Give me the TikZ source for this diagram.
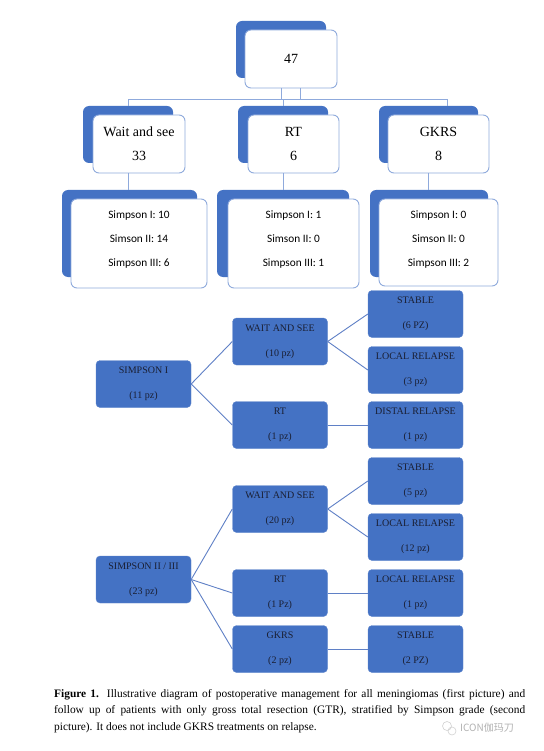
\documentclass[tikz,border=0pt]{standalone}
\usepackage{fontspec}
\setmainfont{Liberation Serif}
\newfontfamily\calibri{Carlito}
\newfontfamily\cjk{Noto Sans CJK SC}
\definecolor{obl}{HTML}{4472C4}
\definecolor{lbl}{HTML}{8FAADC}
\definecolor{conn}{HTML}{5F80C6}
\definecolor{dtext}{HTML}{1A1F33}
\begin{document}
\begin{tikzpicture}[x=1pt,y=-1pt,
  shad/.style={fill=obl, draw=none, rounded corners=6pt, inner sep=0pt},
  frontbox/.style={fill=white, draw=lbl, line width=0.9pt, rounded corners=6pt, inner sep=0pt, align=center},
  toptext/.style={font=\fontsize{14}{24}\selectfont},
  midtext/.style={font=\calibri\fontsize{11.3}{24}\selectfont, align=center, inner sep=0pt},
  pbox/.style={fill=obl, draw=obl!85!white, rounded corners=4pt, minimum width=95pt, minimum height=47pt, inner sep=0pt, align=center, text=dtext, font=\fontsize{10}{25}\selectfont},
  tconn/.style={draw=lbl, line width=0.9pt},
  bconn/.style={draw=conn, line width=0.9pt}]
\useasboundingbox (0,0) rectangle (543,751);
\fill[white] (0,0) rectangle (543,751);

% ---- first picture ----
\node[shad, minimum width=90pt, minimum height=57pt] (tops) at (281,49.5) {};
\node[frontbox, toptext, minimum width=92pt, minimum height=58pt] (top) at (291,59) {47};

\node[shad, minimum width=90pt, minimum height=57pt] (ws1s) at (128,134.5) {};
\node[frontbox, toptext, minimum width=92pt, minimum height=58pt] (ws1) at (139,144) {Wait and see\\33};
\node[shad, minimum width=90pt, minimum height=57pt] (rt1s) at (283,134.5) {};
\node[frontbox, toptext, minimum width=91pt, minimum height=58pt] (rt1) at (293.5,144) {RT\\6};
\node[shad, minimum width=99pt, minimum height=57pt] (gk1s) at (428.5,134.5) {};
\node[frontbox, toptext, minimum width=101pt, minimum height=58pt] (gk1) at (438.5,144) {GKRS\\8};

\node[shad, minimum width=135pt, minimum height=87pt] (ws2s) at (129.5,233.5) {};
\node[frontbox, minimum width=136pt, minimum height=89pt] (ws2) at (139,243.5) {};
\node[midtext] (ws2t) at (139,239.5) {Simpson I: 10\\Simson II: 14\\Simpson III: 6};
\node[shad, minimum width=132pt, minimum height=87pt] (rt2s) at (283,233.5) {};
\node[frontbox, minimum width=131pt, minimum height=89pt] (rt2) at (293.5,243.5) {};
\node[midtext] (rt2t) at (293.5,239.5) {Simpson I: 1\\Simson II: 0\\Simpson III: 1};
\node[shad, minimum width=118pt, minimum height=87pt] (gk2s) at (429,233.5) {};
\node[frontbox, minimum width=119pt, minimum height=87pt] (gk2) at (438.5,242.5) {};
\node[midtext] (gk2t) at (438.5,239.5) {Simpson I: 0\\Simson II: 0\\Simpson III: 2};

\coordinate (jr) at (447,99);
\draw[tconn] (ws1s.north) |- (jr) -- (jr |- gk1s.north);
\draw[tconn] (rt1s.north) -- (rt1s.north |- jr);
\draw[tconn] ([xshift=-9.5pt]top.south) -- ++(0,11) -| ([xshift=9.5pt]top.south);
\draw[tconn] (ws1.south -| ws1s.south) -- (ws1s.south |- ws2s.north);
\draw[tconn] (rt1.south -| rt1s.south) -- (rt1s.south |- rt2s.north);
\draw[tconn] (gk1.south -| gk1s.south) -- (gk1s.south |- gk2s.north);

% ---- second picture ----
\node[pbox] (s1) at (143.5,384) {SIMPSON I\\(11 pz)};
\node[pbox] (wsa) at (280,341.5) {WAIT AND SEE\\(10 pz)};
\node[pbox] (sta) at (415.5,314) {STABLE\\(6 PZ)};
\node[pbox] (lra) at (415.5,370) {LOCAL RELAPSE\\(3 pz)};
\node[pbox] (rta) at (280,425) {RT\\(1 pz)};
\node[pbox] (dra) at (415.5,425) {DISTAL RELAPSE\\(1 pz)};

\node[pbox] (s2) at (143.5,579.5) {SIMPSON II / III\\(23 pz)};
\node[pbox] (wsb) at (280,509) {WAIT AND SEE\\(20 pz)};
\node[pbox] (stb) at (415.5,481) {STABLE\\(5 pz)};
\node[pbox] (lrb) at (415.5,537) {LOCAL RELAPSE\\(12 pz)};
\node[pbox] (rtb) at (280,593) {RT\\(1 Pz)};
\node[pbox] (lrc) at (415.5,593) {LOCAL RELAPSE\\(1 pz)};
\node[pbox] (gkb) at (280,649) {GKRS\\(2 pz)};
\node[pbox] (stc) at (415.5,649) {STABLE\\(2 PZ)};

\draw[bconn] (s1.east) -- (wsa.west);
\draw[bconn] (s1.east) -- (rta.west);
\draw[bconn] (wsa.east) -- (sta.west);
\draw[bconn] (wsa.east) -- (lra.west);
\draw[bconn] (rta.east) -- (dra.west);
\draw[bconn] (s2.east) -- (wsb.west);
\draw[bconn] (s2.east) -- (rtb.west);
\draw[bconn] (s2.east) -- (gkb.west);
\draw[bconn] (wsb.east) -- (stb.west);
\draw[bconn] (wsb.east) -- (lrb.west);
\draw[bconn] (rtb.east) -- (lrc.west);
\draw[bconn] (gkb.east) -- (stc.west);

% ---- caption ----
\node[anchor=north west, inner sep=0pt, text width=471pt, align=justify,
      font=\fontsize{11.4}{16.5}\selectfont] (cap) at (54,689)
 {\hyphenpenalty=10000\textbf{Figure 1.} Illustrative diagram of postoperative management for all meningiomas (first picture) and\linebreak
  follow up of patients with only gross total resection (GTR), stratified by Simpson grade (second\linebreak
  picture). It does not include GKRS treatments on relapse.};

% ---- watermark ----
\node[circle, draw=gray!35, line width=0.6pt, minimum size=9pt, inner sep=0pt] (wc1) at (447,726) {};
\node[circle, draw=gray!35, line width=0.6pt, minimum size=8pt, inner sep=0pt] (wc2) at (452,731) {};
\node[anchor=west, inner sep=0pt, text=gray!60, font=\cjk\fontsize{10}{12}\selectfont] (wm) at (460,728) {ICON伽玛刀};
\end{tikzpicture}
\end{document}
